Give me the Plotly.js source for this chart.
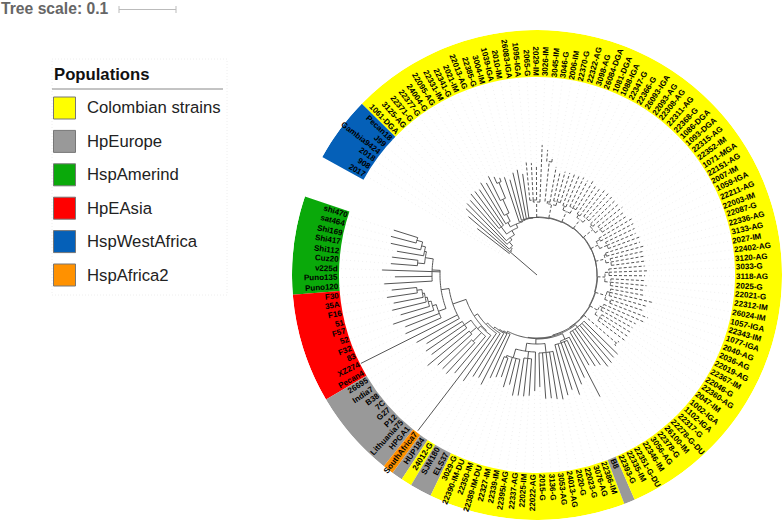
<!DOCTYPE html>
<html>
<head>
<meta charset="utf-8">
<script src="https://cdn.plot.ly/plotly-3.0.1.min.js"></script>
<style>
	html, body { margin: 0; padding: 0; background: #fff; }
	#tree { width: 784px; height: 522px; }
</style>
</head>
<body>
<div id="tree"></div>
<script>
const populations = ["Colombian strains", "HpEurope", "HspAmerind", "HpEAsia", "HspWestAfrica", "HspAfrica2"];
const populationColors = ["#ffff00", "#999999", "#0aa90a", "#ff0000", "#0560b8", "#ff9100"];

// runs of tips round the ring: [population index, number of tips]
const ringRuns = [[2, 9], [3, 10], [1, 8], [5, 1], [1, 1], [0, 1], [1, 2], [0, 18], [1, 1], [0, 78], [4, 6]];

const tipLabels = [
	"shi470", "sat464", "Shi169", "Shi417", "Shi112", "Cuz20", "v225d", "Puno135", "Puno120",
	"F30", "35A", "F16", "51", "F57", "52", "F32", "83", "XZ274", "Pecan4",
	"26695", "India7", "B38", "7C", "G27", "P12", "Lithuania75", "HPGA1",
	"SouthAfrica7", "HUP184", "24012-G", "SJM180", "ELS37",
	"3029-G", "22390-IM-DU", "22350-IM", "22389-IM-DU", "22327-IM", "22339-IM", "22395I-AG", "22337-AG", "22025-IM",
	"22022-AG", "2015-G", "3136-G", "3053-AG", "24013-AG", "2020-G", "22023-G", "3076-AG", "22386-IM", "B8",
	"22393-G", "22335-IM", "22351-G-DU", "22346-IM", "3056-AG", "22378-G", "26100-IM", "22278-G-DU", "22317-G", "1102-IGA",
	"1002-IGA", "2047-IM", "22360-AG", "22046-G", "22367-IM", "22019-AG", "2036-AG", "2040-AG", "1077-IGA", "22343-IM",
	"1057-IGA", "26024-IM", "22312-IM", "22021-G", "2025-G", "3118-AG", "3033-G", "3120-AG", "22402-AG", "2027-IM",
	"3133-AG", "22336-AG", "22087-G", "22003-IM", "22211-AG", "1059-IGA", "2007-IM", "22151-AG", "1071-MGA", "22352-IM",
	"22315-AG", "1093-DGA", "1086-DGA", "22368-G", "22311-AG", "22308-AG", "22093-AG", "26093-IGA", "22366-G", "22347-G",
	"1088-IGA", "1081-DGA", "26084-DGA", "3098-AG", "22322-AG", "22370-G", "2006-IM", "3046-G", "3045-IM", "3026-IM",
	"2029-IM", "2065-G", "1095-IGA", "26083-IGA", "2010-IM", "1039-IGA", "3004-IM", "22385-G", "22013-AG", "2021-IM",
	"22341-G", "22331-IM", "22095-AG", "24004-G", "22377-G", "22371-G", "3125-AG", "1061-DGA",
	"Pecan18", "J99", "Gambia9424", "2018", "908", "2017"
];

// distance of each tip from the root, in ring units
const tipEnd = [
	150, 151, 149.5, 142, 146, 146.5, 155, 142, 153,
	146, 151.6, 146, 149, 142, 152, 141.5, 144, 197, 138,
	130, 134.5, 132, 142, 134, 133, 134, 128, 196,
	129, 120, 118, 123, 113, 110, 108, 117, 113, 123, 122, 122, 121, 116, 112,
	124, 124, 125.6, 127, 124, 120, 127, 118, 113, 137,
	104, 108, 110, 115.6, 115, 112.5, 113, 106, 106,
	110, 111, 109, 109, 110, 117, 118.7, 112, 113, 118, 110, 108, 110, 107, 108, 112, 108,
	109, 109, 108, 110, 108, 110, 107, 108, 109, 110, 108, 107, 109, 108, 107, 110, 108, 109,
	107, 108, 109, 107, 108, 107, 107, 107, 107, 105.5, 109.5, 118, 125.4, 130, 108, 112, 113,
	102, 107, 105, 99, 103, 104, 107, 110, 105, 108, 103, 104, 104.5, 100, 100, 97, 90, 75.6,
	null, null, null
];

// clades: a number is a tip, an array is [node radius, children...]
const cladeGreen = [105, [113, [115, [119, [125, 0, 1], 2], 3], [120, 4, 5]], 7, 8];
const cladeRed = [105, [109, [112, [114, [116, [121, 9, 10], 11], 12], 13], 14], 15, 16];
const cladeLeft = [89, [97, cladeGreen, 6, cladeRed], 17, 18];
const cladeEurope = [80, [88, 19, 20, 21], [88, 22, 23], [92, 24, 25], 26];
const cladeBottom = [64, [69, [77, [86, [88, 33, 34], 35, 36, 37], [84, 38, 39, 40], 41], [78, 42, 43, 44, 45, 46]], [70, [72, 47, 48, 49, 50, 51], 52]];
const cladeSolidRight = [66, 53, 54, 55, 56, 57, 58, 59];
const cladeTopLeft = [60, [68, [83, [100, 119, 120], 121], 122], 123];

// the long ladder from the left clade round to the root: [node radius, side branch]
const ladderSteps = [
	[71, 28], [69, 29], [67, 30], [66, 31], [65, 32],
	[63.5, cladeBottom], [63, cladeSolidRight], [62, [104.5, 60, 61]],
	[61.5, [70, [76, 62, 63, 64], [73, 65, 66, 67]]],
	[61, [72, [78, 68, 69], [75, 70, 71, 72]]],
	[60.5, [68, [74, 73, 74, 75], [72, 76, 77, 78]]],
	[60, [70, [75, 79, 80, 81], [72, 82, 83]]],
	[60, [68, [76, 84, 85, 86], [72, 87, 88]]],
	[60, [72, [78, 89, 90, 91], [74, 92, 93]]],
	[59.5, [70, [75, 94, 95, 96], [73, 97, 98]]],
	[59, [70, [76, 99, 100, 101], [74, 102, 103]]],
	[58.5, [72, [76, 104, 105, 106], [74, 107, [114, 108, 109]]]],
	[58, [73, 110, [75, 111, 112, 113]]],
	[57.5, 114], [57.5, 115], [57, 116], [57, 117], [56, 118],
	[55, cladeTopLeft], [51, [60, 124, 125, 126]],
	[46, 127], [43, 128], [38, 129], [36, 130], [35, 131]
];
const dashedTips = [60, 113];

// ring geometry
const centerX = 537;
const centerY = 275;
const ringInner = 198;
const ringOuter = 245;
const firstAngle = 161.3;
const tipStep = 2.592;
const W = 784;
const H = 522;

function tipAngle(i) {
	return firstAngle + (i + 0.5) * tipStep;
}

// one ring sector per run, so no seams show between tips
const runTheta = [];
const runWidth = [];
let runStart = 0;
ringRuns.forEach(run => {
	runTheta.push((firstAngle + (runStart + run[1] / 2) * tipStep) % 360);
	runWidth.push(run[1] * tipStep);
	runStart += run[1];
});

// walk the tree, collect solid and dashed line pieces
const solid = { r: [], theta: [] };
const dashed = { r: [], theta: [] };

function addRadial(line, a, r0, r1) {
	line.r.push(r0, r1, null);
	line.theta.push(a % 360, a % 360, null);
}

function addArc(line, a0, a1, r) {
	const n = Math.max(1, Math.ceil(Math.abs(a1 - a0)));
	for (let k = 0; k <= n; k++) {
		line.r.push(r);
		line.theta.push((a0 + (a1 - a0) * k / n) % 360);
	}
	line.r.push(null);
	line.theta.push(null);
}

function isDashed(i) {
	return i >= dashedTips[0] && i <= dashedTips[1];
}

function nodeTips(node) {
	if (typeof node === "number") return [node];
	return node.slice(1).reduce((all, c) => all.concat(nodeTips(c)), []);
}

function walk(node, parentR) {
	if (typeof node === "number") {
		const a = tipAngle(node);
		addRadial(isDashed(node) ? dashed : solid, a, parentR, tipEnd[node]);
		return a;
	}
	const r = node[0];
	const angles = node.slice(1).map(c => walk(c, r));
	const a0 = angles[0];
	const a1 = angles[angles.length - 1];
	const a = (a0 + a1) / 2;
	const line = nodeTips(node).every(isDashed) ? dashed : solid;
	addArc(line, a0, a1, r);
	addRadial(line, a, parentR, r);
	return a;
}

let treeRoot = [75, cladeLeft, [76, cladeEurope, 27]];
ladderSteps.forEach(step => {
	treeRoot = [step[0], treeRoot, step[1]];
});
walk(treeRoot, 0);

// dotted guides from each tip out to the ring
const guides = { r: [], theta: [] };
tipEnd.forEach((end, i) => {
	if (end === null) addRadial(guides, tipAngle(i), 40, ringInner);
	else addRadial(guides, tipAngle(i), end, ringInner);
});

const traces = [
	{
		type: "barpolar",
		theta: runTheta,
		r: ringRuns.map(() => ringOuter - ringInner),
		base: ringInner,
		width: runWidth,
		marker: {
			color: ringRuns.map(run => populationColors[run[0]]),
			line: { width: 0 }
		},
		hoverinfo: "skip"
	},
	{
		type: "scatterpolar",
		mode: "lines",
		r: guides.r,
		theta: guides.theta,
		line: { color: "#ececec", width: 0.8, dash: "1px 3px" },
		hoverinfo: "skip"
	},
	{
		type: "scatterpolar",
		mode: "lines",
		r: solid.r,
		theta: solid.theta,
		line: { color: "#555555", width: 1 },
		hoverinfo: "skip"
	},
	{
		type: "scatterpolar",
		mode: "lines",
		r: dashed.r,
		theta: dashed.theta,
		line: { color: "#555555", width: 1, dash: "3px 2px" },
		hoverinfo: "skip"
	}
];

function xFrac(px) {
	return px / W;
}
function yFrac(py) {
	return 1 - py / H;
}

// labels: measured so that each one starts at the inner edge of the ring
const labelFont = "Liberation Sans";
const labelSize = 8;
const measure = document.createElement("canvas").getContext("2d");
measure.font = "bold " + labelSize + "px '" + labelFont + "'";

const annotations = tipLabels.map((label, i) => {
	const a = tipAngle(i);
	const rad = a * Math.PI / 180;
	const w = measure.measureText(label).width;
	const rc = ringInner + 1 + w / 2;
	const flip = Math.cos(rad) < 0;
	return {
		xref: "paper",
		yref: "paper",
		x: xFrac(centerX + rc * Math.cos(rad)),
		y: yFrac(centerY - rc * Math.sin(rad)),
		text: label,
		showarrow: false,
		xanchor: "center",
		yanchor: "middle",
		textangle: flip ? 180 - a : -a,
		borderpad: 0,
		font: { family: labelFont, size: labelSize, color: "#000000", weight: "bold" }
	};
});

// tree scale and legend
annotations.push({
	xref: "paper", yref: "paper", x: 0, y: yFrac(8),
	text: "Tree scale: 0.1", showarrow: false, xanchor: "left", yanchor: "middle", borderpad: 0,
	font: { family: labelFont, size: 15.7, color: "#666666", weight: "bold" }
});
annotations.push({
	xref: "paper", yref: "paper", x: xFrac(53), y: yFrac(74.5),
	text: "Populations", showarrow: false, xanchor: "left", yanchor: "middle", borderpad: 0,
	font: { family: labelFont, size: 16.7, color: "#111111", weight: "bold" }
});

const shapes = [
	{ type: "line", xref: "paper", yref: "paper", x0: xFrac(119), x1: xFrac(176), y0: yFrac(9.5), y1: yFrac(9.5), line: { color: "#bbbbbb", width: 1 } },
	{ type: "line", xref: "paper", yref: "paper", x0: xFrac(119), x1: xFrac(119), y0: yFrac(6), y1: yFrac(13), line: { color: "#bbbbbb", width: 1 } },
	{ type: "line", xref: "paper", yref: "paper", x0: xFrac(176), x1: xFrac(176), y0: yFrac(6), y1: yFrac(13), line: { color: "#bbbbbb", width: 1 } },
	{ type: "rect", xref: "paper", yref: "paper", x0: xFrac(52), x1: xFrac(227), y0: yFrac(59), y1: yFrac(295), line: { color: "#eeeeee", width: 1, dash: "1px 2px" } },
	{ type: "line", xref: "paper", yref: "paper", x0: xFrac(52), x1: xFrac(223), y0: yFrac(89), y1: yFrac(89), line: { color: "#888888", width: 1 } }
];

populations.forEach((name, i) => {
	const top = 97 + i * 33.4;
	shapes.push({
		type: "rect", xref: "paper", yref: "paper",
		x0: xFrac(53.5), x1: xFrac(75.5), y0: yFrac(top), y1: yFrac(top + 22),
		fillcolor: populationColors[i],
		line: { color: "#777777", width: 1 }
	});
	annotations.push({
		xref: "paper", yref: "paper", x: xFrac(86), y: yFrac(top + 11),
		text: name, showarrow: false, xanchor: "left", yanchor: "middle", borderpad: 0,
		font: { family: labelFont, size: 16.7, color: "#222222" }
	});
});

const layout = {
	width: W,
	height: H,
	margin: { l: 0, r: 0, t: 0, b: 0, pad: 0 },
	paper_bgcolor: "#ffffff",
	showlegend: false,
	polar: {
		domain: {
			x: [xFrac(centerX - ringOuter), xFrac(centerX + ringOuter)],
			y: [yFrac(centerY + ringOuter), yFrac(centerY - ringOuter)]
		},
		bgcolor: "rgba(0,0,0,0)",
		barmode: "overlay",
		radialaxis: { range: [0, ringOuter], visible: false },
		angularaxis: { visible: false, rotation: 0, direction: "counterclockwise" }
	},
	shapes: shapes,
	annotations: annotations
};

Plotly.newPlot("tree", traces, layout, { displayModeBar: false, staticPlot: true });
</script>
</body>
</html>
